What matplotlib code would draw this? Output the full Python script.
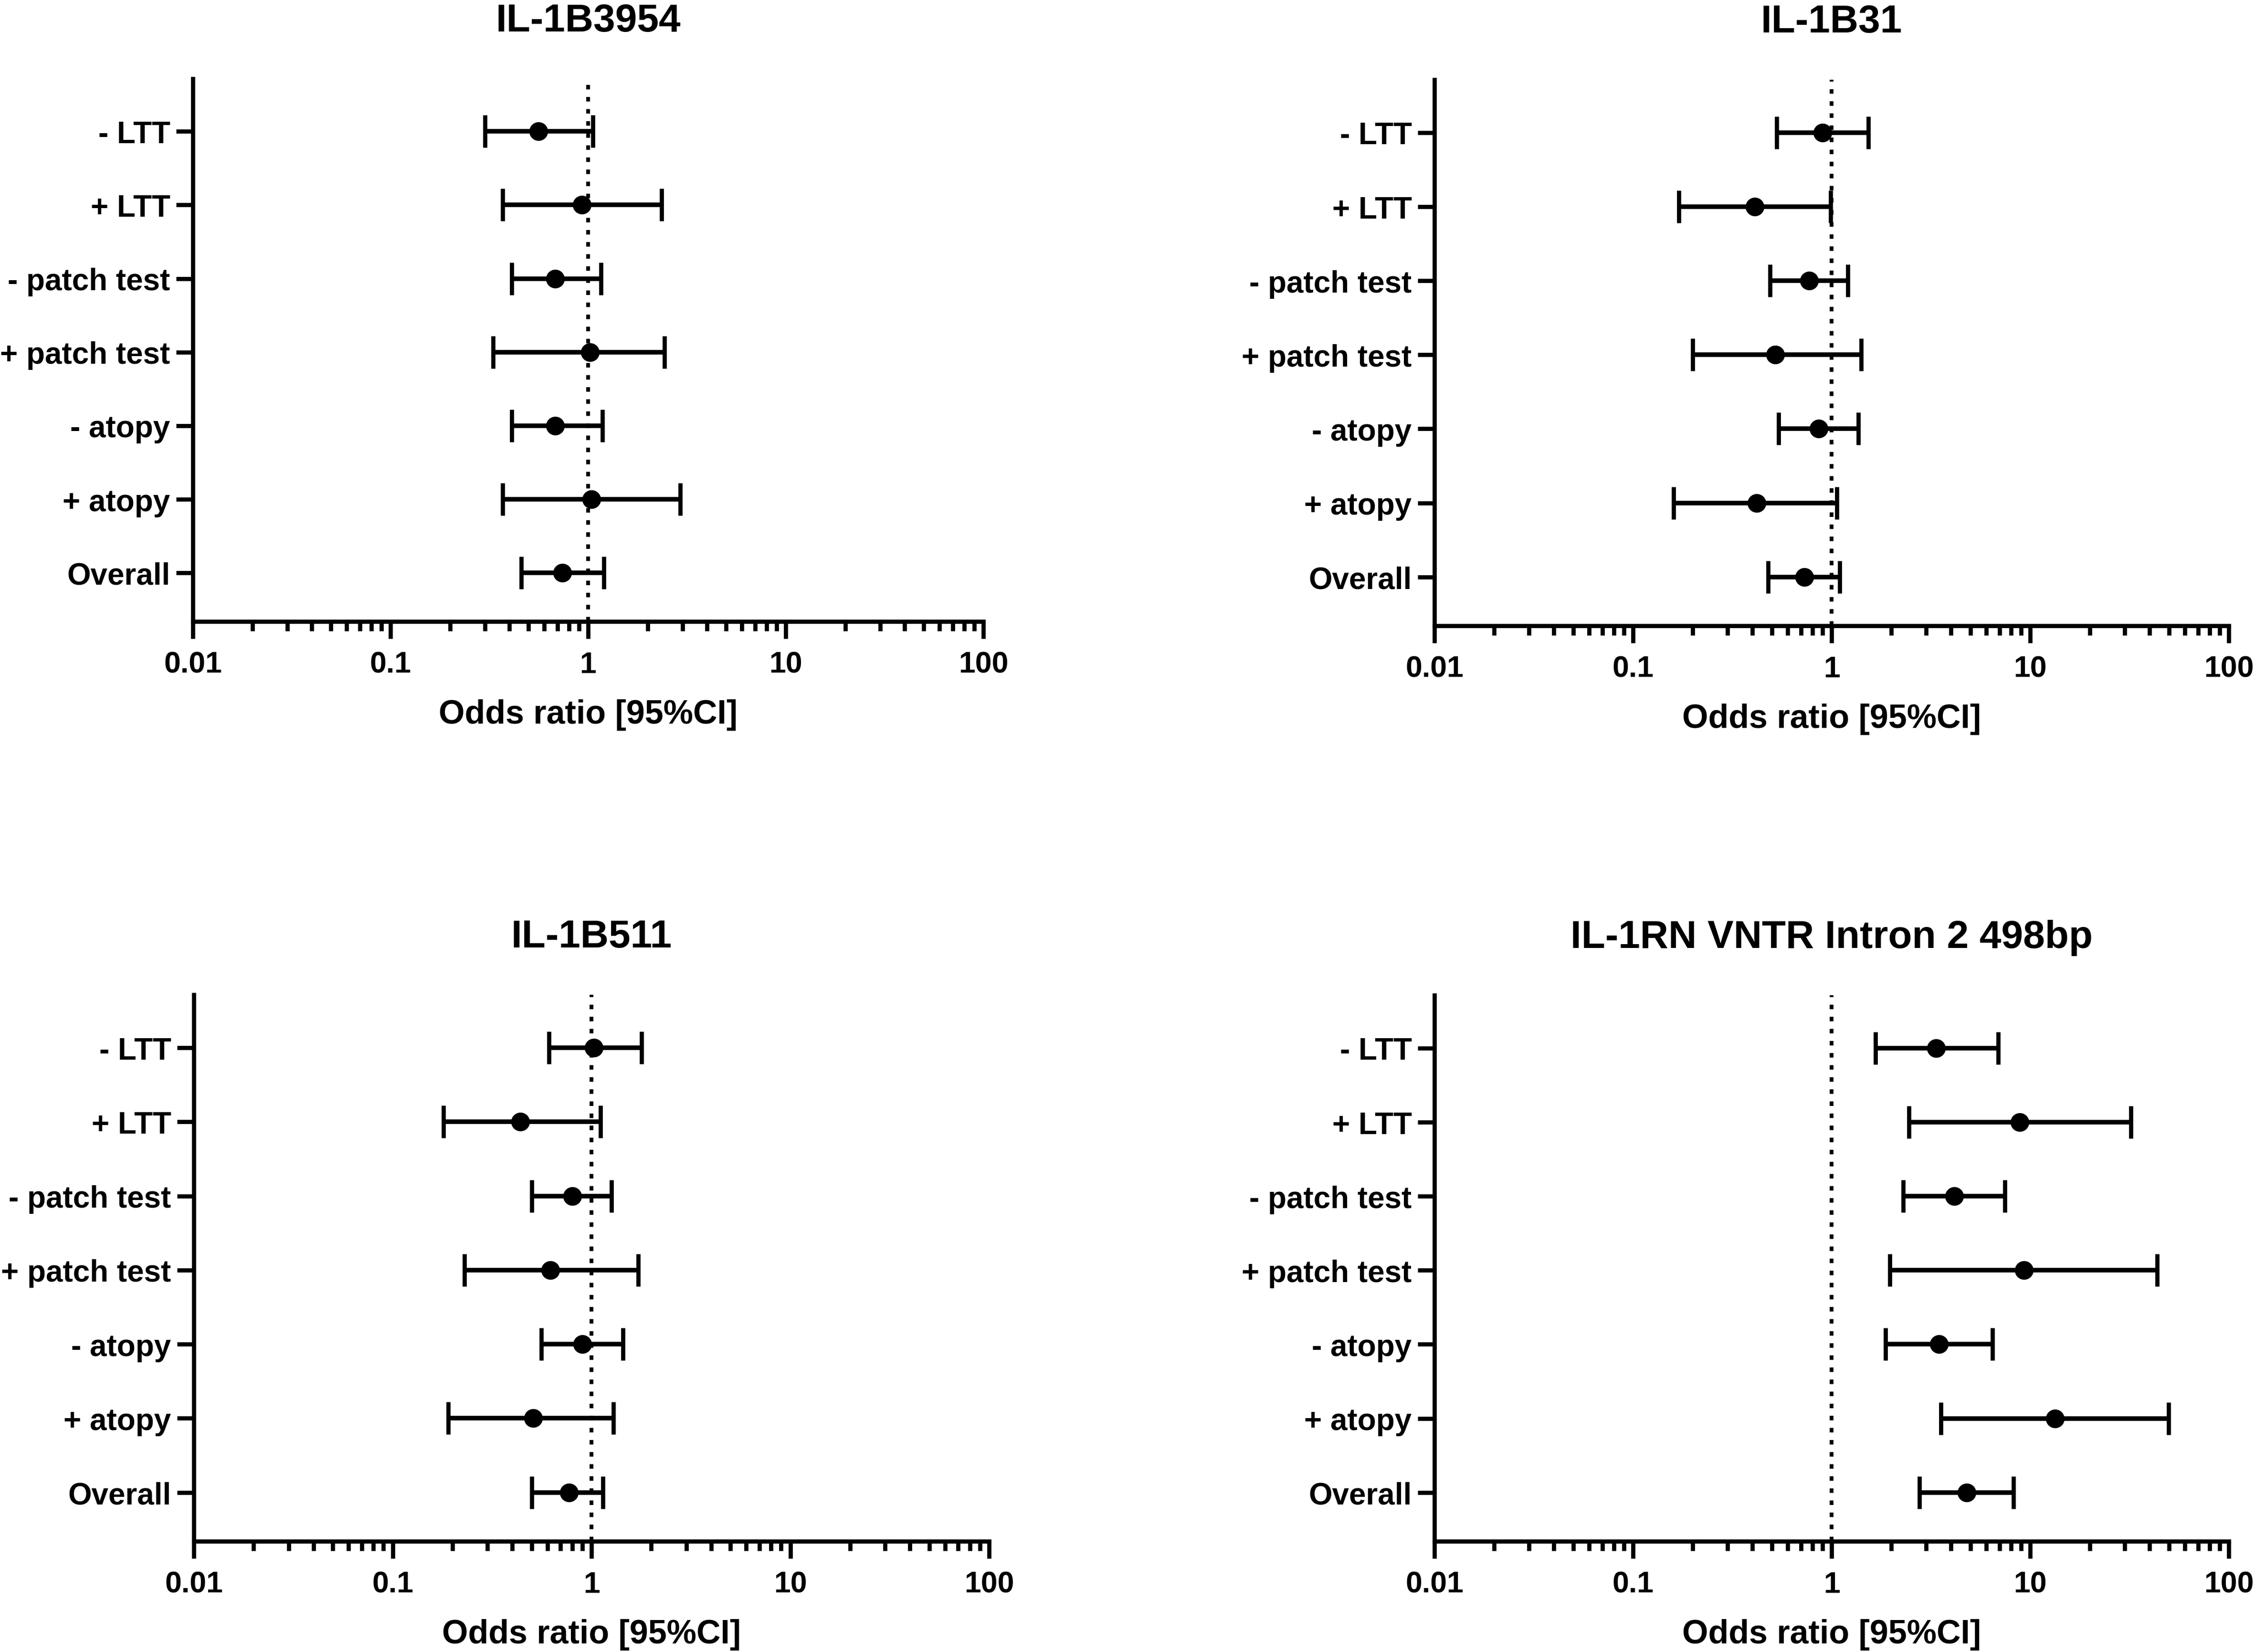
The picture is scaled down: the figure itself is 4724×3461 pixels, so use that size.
import numpy as np
import matplotlib
matplotlib.use("Agg")
import matplotlib.pyplot as plt
from matplotlib.ticker import LogLocator, FixedLocator, FixedFormatter, NullFormatter

plt.rcParams['font.family'] = ['Liberation Sans', 'DejaVu Sans']
plt.rcParams['font.weight'] = 'bold'

# ---------------- data ----------------
categories = ["- LTT", "+ LTT", "- patch test", "+ patch test", "- atopy", "+ atopy", "Overall"]
xtick_values = [0.01, 0.1, 1, 10, 100]
xtick_labels = ["0.01", "0.1", "1", "10", "100"]
xlabel_text = "Odds ratio [95%CI]"

titles = ["IL-1B3954", "IL-1B31", "IL-1B511", "IL-1RN VNTR Intron 2 498bp"]

il1b3954_or = [0.56, 0.93, 0.68, 1.02, 0.68, 1.04, 0.74]
il1b3954_lo = [0.30, 0.37, 0.41, 0.33, 0.41, 0.37, 0.46]
il1b3954_hi = [1.06, 2.36, 1.16, 2.44, 1.18, 2.92, 1.20]

il1b31_or = [0.90, 0.41, 0.77, 0.52, 0.86, 0.42, 0.73]
il1b31_lo = [0.53, 0.17, 0.49, 0.20, 0.54, 0.16, 0.48]
il1b31_hi = [1.53, 0.99, 1.21, 1.41, 1.36, 1.06, 1.10]

il1b511_or = [1.03, 0.44, 0.80, 0.62, 0.90, 0.51, 0.77]
il1b511_lo = [0.61, 0.18, 0.50, 0.23, 0.56, 0.19, 0.50]
il1b511_hi = [1.79, 1.11, 1.26, 1.72, 1.44, 1.29, 1.14]

il1rn_or = [3.37, 8.85, 4.14, 9.29, 3.48, 13.3, 4.80]
il1rn_lo = [1.66, 2.45, 2.30, 1.96, 1.87, 3.56, 2.77]
il1rn_hi = [6.89, 32.1, 7.45, 43.5, 6.47, 49.7, 8.26]

panels_or = [il1b3954_or, il1b31_or, il1b511_or, il1rn_or]
panels_lo = [il1b3954_lo, il1b31_lo, il1b511_lo, il1rn_lo]
panels_hi = [il1b3954_hi, il1b31_hi, il1b511_hi, il1rn_hi]

# ---------------- layout (pixel boxes: x0, x1, ytop, ybottom) ----------------
W, H = 4724, 3462
DPI = 300
boxes = [(404, 2060, 166, 1303),
         (3005, 4669, 168, 1312),
         (406, 2072, 2085, 3230),
         (3005, 4669, 2086, 3230)]

fig = plt.figure(figsize=(W / DPI, H / DPI), dpi=DPI)

LW = 2.1
for k in range(4):
    x0, x1, yt, yb = boxes[k]
    ax = fig.add_axes([x0 / W, 1 - yb / H, (x1 - x0) / W, (yb - yt) / H])
    orv = np.array(panels_or[k])
    lo = np.array(panels_lo[k])
    hi = np.array(panels_hi[k])
    ypos = np.arange(len(categories))

    ax.axvline(1, color='black', lw=1.9, linestyle=(0, (1.2, 2.0)), zorder=1)
    ax.errorbar(orv, ypos, xerr=[orv - lo, hi - orv], fmt='o', color='black',
                ms=8.4, capsize=8.2, elinewidth=2.3, capthick=2.1, zorder=3)

    ax.set_xscale('log')
    ax.set_xlim(0.01, 100)
    ax.set_ylim(6.66, -0.715)

    ax.xaxis.set_major_locator(FixedLocator(xtick_values))
    ax.xaxis.set_major_formatter(FixedFormatter(xtick_labels))
    ax.xaxis.set_minor_locator(LogLocator(base=10, subs=np.arange(2, 10)))
    ax.xaxis.set_minor_formatter(NullFormatter())

    ax.set_yticks(ypos)
    ax.set_yticklabels(categories)

    for s in ['top', 'right']:
        ax.spines[s].set_visible(False)
    for s in ['left', 'bottom']:
        ax.spines[s].set_linewidth(LW)

    ax.tick_params(axis='x', which='major', length=8.6, width=LW, pad=6, labelsize=15)
    ax.tick_params(axis='x', which='minor', length=4.7, width=LW)
    ax.tick_params(axis='y', which='major', length=8.4, width=LW, pad=3, labelsize=15.3)

    ax.set_title(titles[k], fontsize=19.7, fontweight='bold', pad=24)
    ax.set_xlabel(xlabel_text, fontsize=16.8, fontweight='bold', va='baseline')
    ax.xaxis.set_label_coords(0.5, -213 / (yb - yt))

fig.savefig("out.png", dpi=DPI)
